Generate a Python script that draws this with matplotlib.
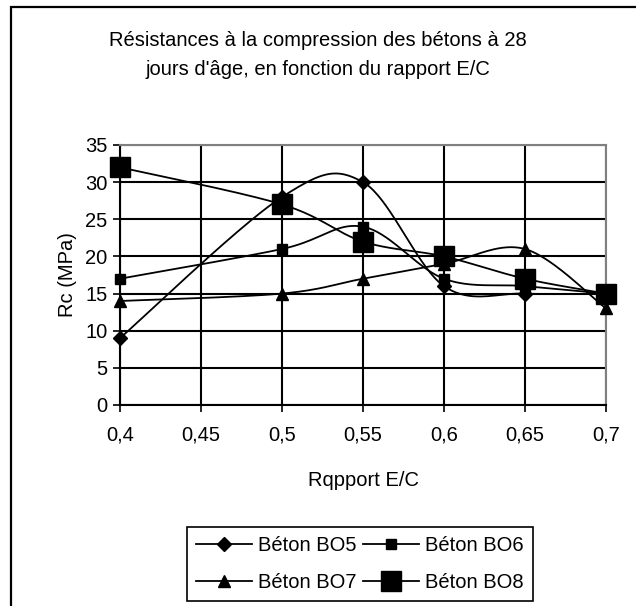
import matplotlib
matplotlib.use("Agg")
import matplotlib.pyplot as plt
from matplotlib.patches import Rectangle
import numpy as np

plt.rcParams['font.family'] = ['Liberation Sans', 'DejaVu Sans']

# Data
ec_ratio = [0.4, 0.5, 0.55, 0.6, 0.65, 0.7]
rc_bo5 = [9, 28, 30, 16, 15, 15]
rc_bo6 = [17, 21, 24, 17, 16, 15]
rc_bo7 = [14, 15, 17, 19, 21, 13]
rc_bo8 = [32, 27, 22, 20, 17, 15]
x_ticks = [0.4, 0.45, 0.5, 0.55, 0.6, 0.65, 0.7]
x_tick_labels = ['0,4', '0,45', '0,5', '0,55', '0,6', '0,65', '0,7']
y_ticks = [0, 5, 10, 15, 20, 25, 30, 35]

FS = 14.5


# Excel style smoothed line (Catmull-Rom bezier through the points)
def smooth(x, y, n=40):
    p = np.column_stack([x, y]).astype(float)
    p = np.vstack([p[0], p, p[-1]])
    out = []
    for i in range(1, len(p) - 2):
        p0, p1, p2, p3 = p[i - 1], p[i], p[i + 1], p[i + 2]
        c1 = p1 + (p2 - p0) / 6
        c2 = p2 - (p3 - p1) / 6
        t = np.linspace(0, 1, n)[:, None]
        seg = (1 - t) ** 3 * p1 + 3 * (1 - t) ** 2 * t * c1 + 3 * (1 - t) * t ** 2 * c2 + t ** 3 * p2
        out.append(seg if i == 1 else seg[1:])
    out = np.vstack(out)
    return out[:, 0], out[:, 1]


fig = plt.figure(figsize=(6.36, 6.06), dpi=100)
ax = fig.add_axes([120 / 636, 1 - 405 / 606, 486 / 636, 260 / 606])

series = [
    (rc_bo5, 'D', 7, 'Béton BO5'),
    (rc_bo6, 's', 7, 'Béton BO6'),
    (rc_bo7, '^', 9, 'Béton BO7'),
    (rc_bo8, 's', 14, 'Béton BO8'),
]
handles = []
for vals, mk, ms, lab in series:
    sx, sy = smooth(ec_ratio, vals)
    ax.plot(sx, sy, color='black', lw=1.3, zorder=3)
    ax.plot(ec_ratio, vals, ls='none', marker=mk, ms=ms, color='black', zorder=4, clip_on=False)
    h, = ax.plot([], [], color='black', lw=1.3, marker=mk, ms=ms, label=lab)
    handles.append(h)

ax.set_xlim(0.4, 0.7)
ax.set_ylim(0, 35)
ax.set_xticks(x_ticks)
ax.set_xticklabels(x_tick_labels)
ax.set_yticks(y_ticks)
ax.grid(True, color='black', lw=1.5)
ax.set_axisbelow(True)
ax.tick_params(labelsize=FS, length=5, width=1.2, color='black', pad=10)
ax.tick_params(axis='y', pad=4)
for s in ['top', 'right']:
    ax.spines[s].set_color('#808080')
    ax.spines[s].set_linewidth(1.5)
for s in ['left', 'bottom']:
    ax.spines[s].set_linewidth(1.5)

ax.set_ylabel('Rc (MPa)', fontsize=FS, labelpad=6)
ax.set_xlabel('Rqpport E/C', fontsize=FS, labelpad=19)

fig.text(318 / 636, 1 - 55 / 606, "Résistances à la compression des bétons à 28\njours d'âge, en fonction du rapport E/C",
         ha='center', va='center', fontsize=FS, linespacing=1.7)

# row order: BO5, BO6 / BO7, BO8
order = [handles[0], handles[2], handles[1], handles[3]]
leg = fig.legend(order, [h.get_label() for h in order], loc='center',
                 bbox_to_anchor=(360 / 636, 1 - 564 / 606), ncol=2, fontsize=FS,
                 frameon=True, fancybox=False, edgecolor='black', framealpha=1,
                 handlelength=2.8, columnspacing=0.3, handletextpad=0.3,
                 borderpad=0.45, labelspacing=0.9)
leg.get_frame().set_linewidth(1.2)

# outer chart frame
fig.patches.append(Rectangle((11 / 636, -0.2), 1.2, 1.2 - 7 / 606, transform=fig.transFigure,
                             fill=False, edgecolor='black', lw=1.6))

fig.savefig('out.png', dpi=100)
